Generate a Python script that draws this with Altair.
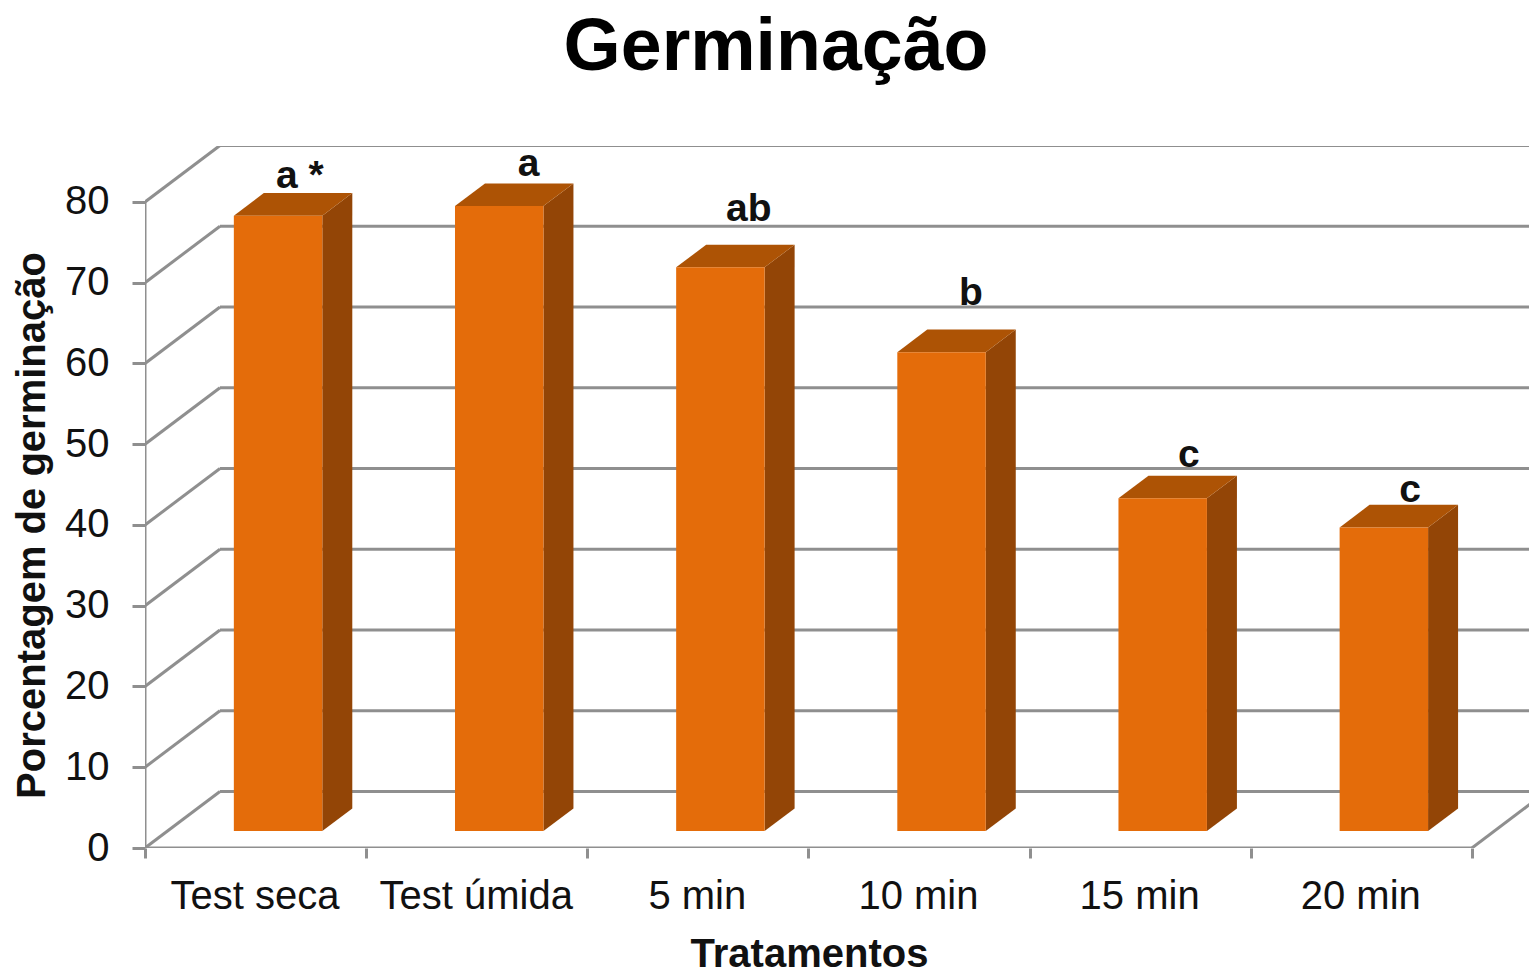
import json
import altair as alt
import pandas as pd

categories = ["Test seca", "Test úmida", "5 min", "10 min", "15 min", "20 min"]
values = [76.2, 77.4, 69.8, 59.3, 41.2, 37.6]
letters = ["a *", "a", "ab", "b", "c", "c"]
letter_x = [0.70, 1.735, 2.73, 3.735, 4.72, 5.72]
letter_y = [81.7, 83.2, 77.6, 67.2, 47.2, 42.8]
y_ticks = [0, 10, 20, 30, 40, 50, 60, 70, 80]
x_ticks = [0, 1, 2, 3, 4, 5, 6]

X_MAX = 6.258
Y_MAX = 86.93
# oblique projection of the 3-D box: shift per unit of depth, in data units
DEPTH_X = 0.339
DEPTH_Y = 7.0
BAR_L, BAR_R = 0.30, 0.70
D_FRONT, D_BACK = 0.30, 0.70

FONT = "Liberation Sans"
GRID = "#8f8f8f"
FRONT = "#E46C0A"
SIDE = "#934506"
TOP = "#AD5305"
LINE_W = 3

x_scale = alt.Scale(domain=[0, X_MAX], nice=False, zero=False)
y_scale = alt.Scale(domain=[0, Y_MAX], nice=False, zero=False)

# wall, floor and axis lines
rows = []
def seg(name, x0, y0, x1, y1):
    rows.append({"id": name, "x": x0, "y": y0, "o": 0})
    rows.append({"id": name, "x": x1, "y": y1, "o": 1})

for v in y_ticks:
    seg(f"back{v}", DEPTH_X, v + DEPTH_Y, X_MAX + 1, v + DEPTH_Y)
    seg(f"side{v}", 0, v, DEPTH_X, v + DEPTH_Y)
seg("floor_right", x_ticks[-1], 0, x_ticks[-1] + DEPTH_X, DEPTH_Y)
seg("y_axis", 0, y_ticks[0], 0, y_ticks[-1])
seg("x_axis", x_ticks[0], 0, x_ticks[-1], 0)
lines_df = pd.DataFrame(rows)

front_rows, side_rows, top_rows = [], [], []
for i, v in enumerate(values):
    l = i + BAR_L + D_FRONT * DEPTH_X
    r = i + BAR_R + D_FRONT * DEPTH_X
    b = D_FRONT * DEPTH_Y
    t = v + b
    dx = (D_BACK - D_FRONT) * DEPTH_X
    dy = (D_BACK - D_FRONT) * DEPTH_Y
    front_rows.append({"l": l, "r": r, "b": b, "t": t})
    side_rows += [
        {"bar": i, "x": r, "lo": b, "hi": t},
        {"bar": i, "x": r + dx, "lo": b + dy, "hi": t + dy},
    ]
    top_rows += [
        {"bar": i, "x": l, "x2": r, "y": t},
        {"bar": i, "x": l + dx, "x2": r + dx, "y": t + dy},
    ]

labels_expr = "(" + json.dumps(categories + [""], ensure_ascii=False) + ")[datum.value]"

x_axis = alt.Axis(
    values=x_ticks, labelExpr=labels_expr, labelOffset=109.5, domain=False, grid=False,
    tickSize=10, tickColor=GRID, tickWidth=LINE_W, labelFont=FONT, labelFontSize=40,
    labelColor="#111111", labelPadding=18, labelFlush=False, labelOverlap=False,
    labelBound=False, labelAngle=0, labelLimit=400,
    title="Tratamentos", titleFont=FONT, titleFontSize=40, titleFontWeight="bold",
    titleColor="#111111", titleX=664, titleY=118, titleAlign="center",
    titleBaseline="alphabetic", titleAnchor="start",
)
y_axis = alt.Axis(
    values=y_ticks, domain=False, grid=False, tickSize=13, tickColor=GRID, tickWidth=LINE_W,
    labelFont=FONT, labelFontSize=40, labelColor="#111111", labelPadding=23,
    labelFlush=False, labelOverlap=False, labelBound=False,
    title="Porcentagem de germinação", titleFont=FONT, titleFontSize=40,
    titleFontWeight="bold", titleColor="#111111", titleX=-101, titleY=379,
    titleAngle=270, titleAlign="center", titleBaseline="alphabetic", titleAnchor="start",
)

walls = alt.Chart(lines_df).mark_line(color=GRID, strokeWidth=LINE_W, clip=True).encode(
    x=alt.X("x:Q", scale=x_scale, axis=x_axis),
    y=alt.Y("y:Q", scale=y_scale, axis=y_axis),
    detail="id:N",
    order="o:Q",
)

front = alt.Chart(pd.DataFrame(front_rows)).mark_rect(color=FRONT).encode(
    x=alt.X("l:Q", scale=x_scale, axis=x_axis),
    x2="r:Q",
    y=alt.Y("b:Q", scale=y_scale, axis=y_axis),
    y2="t:Q",
)
side = alt.Chart(pd.DataFrame(side_rows)).mark_area(color=SIDE, orient="vertical").encode(
    x=alt.X("x:Q", scale=x_scale, axis=x_axis),
    y=alt.Y("lo:Q", scale=y_scale, axis=y_axis),
    y2="hi:Q",
    detail="bar:N",
)
top = alt.Chart(pd.DataFrame(top_rows)).mark_area(color=TOP, orient="horizontal").encode(
    y=alt.Y("y:Q", scale=y_scale, axis=y_axis),
    x=alt.X("x:Q", scale=x_scale, axis=x_axis),
    x2="x2:Q",
    detail="bar:N",
)
text = alt.Chart(pd.DataFrame({"x": letter_x, "y": letter_y, "t": letters})).mark_text(
    font=FONT, fontSize=39, fontWeight="bold", color="#111111", align="center", baseline="alphabetic"
).encode(
    x=alt.X("x:Q", scale=x_scale, axis=x_axis),
    y=alt.Y("y:Q", scale=y_scale, axis=y_axis),
    text="t:N",
)

chart = alt.layer(walls, side, top, front, text).properties(
    width=1384,
    height=702,
    padding={"left": 137, "top": 138, "right": 0, "bottom": 122},
    autosize=alt.AutoSizeParams(type="none"),
    background="white",
    title=alt.TitleParams(
        "Germinação", font=FONT, fontSize=73.5, fontWeight="bold", color="#000000",
        anchor="middle", frame="group", dx=-61, offset=2, baseline="alphabetic",
    ),
).configure_view(stroke=None)

chart.save("out.html", embed_options={"renderer": "svg", "actions": False})
